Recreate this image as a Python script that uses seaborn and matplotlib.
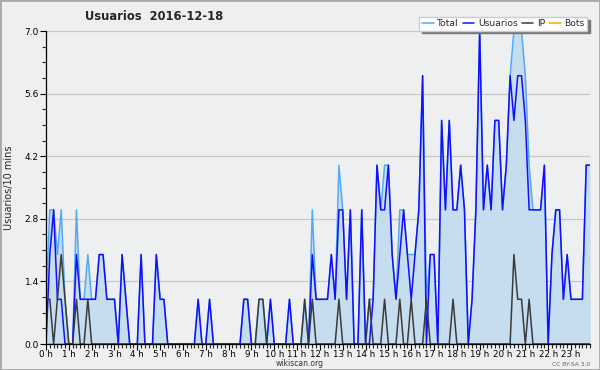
import numpy as np
import pandas as pd
import seaborn as sns
import matplotlib.pyplot as plt
from matplotlib.lines import Line2D
from matplotlib.patches import Rectangle
from matplotlib.ticker import MultipleLocator, FuncFormatter

# one value per 10-minute slot, 00:00 .. 23:50 (12 slots per row = 2 hours)
total = [1, 3, 3, 2, 3, 1, 0, 0, 3, 1, 1, 2,
         1, 1, 2, 2, 1, 1, 1, 0, 2, 1, 0, 0,
         0, 2, 0, 0, 0, 2, 1, 1, 0, 0, 0, 0,
         0, 0, 0, 0, 1, 0, 0, 1, 0, 0, 0, 0,
         0, 0, 0, 0, 1, 1, 0, 0, 1, 1, 0, 1,
         0, 0, 0, 0, 1, 0, 0, 0, 1, 0, 3, 1,
         1, 1, 1, 2, 1, 4, 3, 1, 3, 0, 0, 3,
         0, 1, 1, 4, 3, 4, 4, 2, 1, 3, 3, 2,
         2, 2, 3, 6, 1, 2, 2, 0, 5, 3, 5, 3,
         3, 4, 3, 0, 1, 3, 7, 3, 4, 3, 5, 5,
         3, 4, 6, 7, 7, 7, 6, 4, 3, 3, 3, 4,
         0, 2, 3, 3, 1, 2, 1, 1, 1, 1, 4, 4]

usuarios = [0, 2, 3, 1, 1, 0, 0, 0, 2, 1, 1, 1,
            1, 1, 2, 2, 1, 1, 1, 0, 2, 1, 0, 0,
            0, 2, 0, 0, 0, 2, 1, 1, 0, 0, 0, 0,
            0, 0, 0, 0, 1, 0, 0, 1, 0, 0, 0, 0,
            0, 0, 0, 0, 1, 1, 0, 0, 0, 0, 0, 1,
            0, 0, 0, 0, 1, 0, 0, 0, 0, 0, 2, 1,
            1, 1, 1, 2, 1, 3, 3, 1, 3, 0, 0, 3,
            0, 0, 1, 4, 3, 3, 4, 2, 1, 2, 3, 2,
            1, 2, 3, 6, 0, 2, 2, 0, 5, 3, 5, 3,
            3, 4, 3, 0, 1, 3, 7, 3, 4, 3, 5, 5,
            3, 4, 6, 5, 6, 6, 5, 3, 3, 3, 3, 4,
            0, 2, 3, 3, 1, 2, 1, 1, 1, 1, 4, 4]

ip = [1, 1, 0, 1, 2, 1, 0, 0, 1, 0, 0, 1,
      0, 0, 0, 0, 0, 0, 0, 0, 0, 0, 0, 0,
      0, 0, 0, 0, 0, 0, 0, 0, 0, 0, 0, 0,
      0, 0, 0, 0, 0, 0, 0, 0, 0, 0, 0, 0,
      0, 0, 0, 0, 0, 0, 0, 0, 1, 1, 0, 0,
      0, 0, 0, 0, 0, 0, 0, 0, 1, 0, 1, 0,
      0, 0, 0, 0, 0, 1, 0, 0, 0, 0, 0, 0,
      0, 1, 0, 0, 0, 1, 0, 0, 0, 1, 0, 0,
      1, 0, 0, 0, 1, 0, 0, 0, 0, 0, 0, 1,
      0, 0, 0, 0, 0, 0, 0, 0, 0, 0, 0, 0,
      0, 0, 0, 2, 1, 1, 0, 1, 0, 0, 0, 0,
      0, 0, 0, 0, 0, 0, 0, 0, 0, 0, 0, 0]

bots = [0] * 144  # no bot activity that day

BG = '#eeeff1'
FILL = '#c6dcef'
colors = {'Total': '#55aaf5', 'Usuarios': '#1010ff', 'IP': '#3a3a3a', 'Bots': '#ffa500'}

df = pd.DataFrame({'slot': np.arange(len(total)), 'Total': total,
                   'Usuarios': usuarios, 'IP': ip, 'Bots': bots})
long = df.melt(id_vars='slot', var_name='serie', value_name='n')

sns.set_style('white')
plt.rcParams['font.family'] = ['DejaVu Sans']

fig = plt.figure(figsize=(6, 3.7), dpi=100, facecolor=BG)
ax = fig.add_axes([46 / 600, 26 / 370, 544 / 600, 313 / 370])
ax.set_facecolor(BG)

ax.fill_between(df['slot'], df['Total'], color=FILL, lw=0, zorder=1)
sns.lineplot(data=long, x='slot', y='n', hue='serie',
             hue_order=['Bots', 'Total', 'Usuarios', 'IP'], palette=colors,
             lw=1.1, legend=False, ax=ax, zorder=2)

ax.set_xlim(0, 143)
ax.set_ylim(0, 7)
ax.xaxis.set_major_locator(MultipleLocator(6))
ax.xaxis.set_minor_locator(MultipleLocator(1))
ax.xaxis.set_major_formatter(FuncFormatter(lambda v, p: f"{int(v // 6)} h"))
ax.yaxis.set_major_locator(MultipleLocator(1.4))
ax.yaxis.set_minor_locator(MultipleLocator(0.35))
ax.yaxis.set_major_formatter(FuncFormatter(lambda v, p: f"{v:.1f}"))
ax.tick_params(axis='both', which='major', length=4, width=0.8, labelsize=6.5,
               pad=1, colors='black', bottom=True, left=True)
ax.tick_params(axis='x', which='major', pad=0, labelsize=6.3)
ax.tick_params(axis='both', which='minor', length=3, width=0.8, bottom=True, left=True)
ax.grid(axis='y', color='#c8c8c8', lw=0.9)
ax.set_axisbelow(True)
for s in ['top', 'right']:
    ax.spines[s].set_visible(False)
for s in ['left', 'bottom']:
    ax.spines[s].set_color('black')
    ax.spines[s].set_linewidth(0.9)
ax.set_xlabel('')
ax.set_ylabel('')

fig.text(9 / 600, 1 - 188 / 370, 'Usuarios/10 mins', rotation=90,
         ha='center', va='center', fontsize=7)
fig.text(85 / 600, 1 - 16 / 370, 'Usuarios  2016-12-18', weight='bold',
         fontsize=8.3, va='center', ha='left')
fig.text(0.5, 1 - 364 / 370, 'wikiscan.org', ha='center', va='center',
         fontsize=5.5, color='#333333')
fig.text(590 / 600, 1 - 364 / 370, 'CC BY-SA 3.0', ha='right', va='center',
         fontsize=4.3, color='#666666')

handles = [Line2D([], [], color=colors[k], lw=1.1) for k in ['Total', 'Usuarios', 'IP', 'Bots']]
leg = fig.legend(handles, ['Total', 'Usuarios', 'IP', 'Bots'], ncol=4,
                 loc='upper right', bbox_to_anchor=(587 / 600, 1 - 17 / 370),
                 fontsize=6.6, handlelength=1.3, handletextpad=0.4,
                 columnspacing=0.4, borderpad=0.25, borderaxespad=0,
                 fancybox=False, framealpha=1, edgecolor='#cccccc',
                 shadow={'color': '#777777', 'alpha': 1, 'ox': 2, 'oy': -2})
leg.set_zorder(10)

fig.patches.append(Rectangle((0, 0), 1, 1, transform=fig.transFigure,
                             fill=False, ec='#a8a8a8', lw=2))

fig.savefig('out.png', dpi=100, facecolor=BG)
